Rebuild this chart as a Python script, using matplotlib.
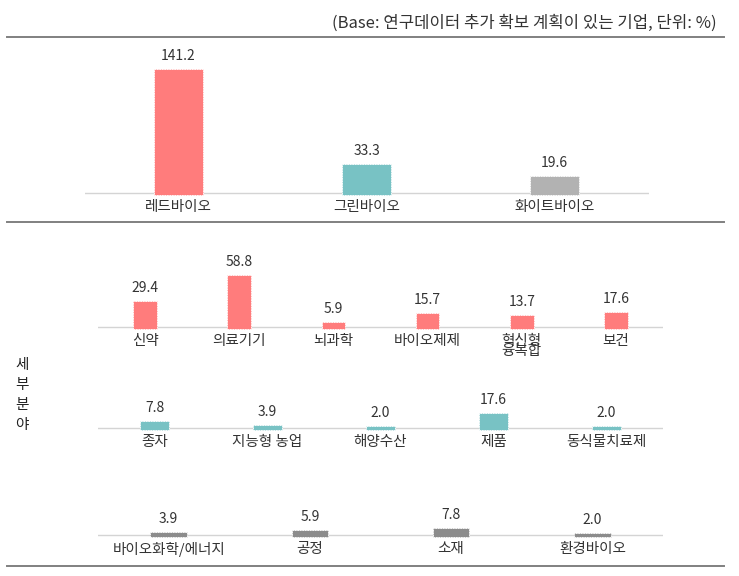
import matplotlib
matplotlib.use("Agg")
import matplotlib.pyplot as plt
from matplotlib.lines import Line2D

plt.rcParams['font.family'] = ['Noto Sans CJK KR', 'DejaVu Sans']

# data
main_labels = ["레드바이오", "그린바이오", "화이트바이오"]
main_values = [141.2, 33.3, 19.6]

red_labels = ["신약", "의료기기", "뇌과학", "바이오제제", "혁신형\n융복합", "보건"]
red_values = [29.4, 58.8, 5.9, 15.7, 13.7, 17.6]

green_labels = ["종자", "지능형 농업", "해양수산", "제품", "동식물치료제"]
green_values = [7.8, 3.9, 2.0, 17.6, 2.0]

white_labels = ["바이오화학/에너지", "공정", "소재", "환경바이오"]
white_values = [3.9, 5.9, 7.8, 2.0]

RED = "#FF7C7C"
TEAL = "#78C2C4"
GRAY_LIGHT = "#B2B2B2"
GRAY_DARK = "#8C8C8C"

W, H = 739, 576
fig = plt.figure(figsize=(W / 100, H / 100), dpi=100)

SCALE = 0.88  # pixels per percent
LO = -6


def px2pt(p):
    return p * 0.72


def section(base_px, x0, x1, labels, values, color, width, ymax):
    bottom_px = base_px - LO * SCALE
    top_px = base_px - ymax * SCALE
    ax = fig.add_axes([x0 / W, 1 - bottom_px / H, (x1 - x0) / W, (bottom_px - top_px) / H])
    n = len(values)
    ax.set_xlim(-0.5, n - 0.5)
    ax.set_ylim(LO, ymax)
    ax.axis('off')
    ax.axhline(0, color="#D4D4D4", lw=1.0, zorder=1)
    sink = 2 / SCALE
    xs = list(range(n))
    ax.bar(xs, [v + sink for v in values], bottom=-sink, width=width, color=color,
           edgecolor="white", linewidth=0.6, linestyle=(0, (2, 1)), zorder=2)
    for x, v, lab in zip(xs, values, labels):
        ax.annotate(f"{v:.1f}", xy=(x, v), xytext=(0, px2pt(13)), textcoords="offset points",
                    ha="center", va="center", fontsize=10, color="#333333")
        ax.annotate(lab, xy=(x, 0), xytext=(0, -px2pt(7)), textcoords="offset points",
                    ha="center", va="top", fontsize=10.5, color="#333333",
                    linespacing=0.65)
    return ax


section(193, 84.5, 648.5, main_labels, main_values, [RED, TEAL, GRAY_LIGHT], 0.26, 150)
section(327, 98, 663, red_labels, red_values, RED, 0.25, 66)
section(428, 98, 663, green_labels, green_values, TEAL, 0.26, 20)
section(535, 98, 663, white_labels, white_values, GRAY_DARK, 0.26, 10)

# separator lines
for y in (37, 222, 566):
    fig.add_artist(Line2D([7 / W, 724 / W], [1 - y / H, 1 - y / H],
                          color="#808080", lw=1.4))

fig.text(717 / W, 1 - 23 / H, "(Base: 연구데이터 추가 확보 계획이 있는 기업, 단위: %)",
         ha="right", va="center", fontsize=12, color="#333333")

for i, ch in enumerate("세부분야"):
    fig.text(22 / W, 1 - (365 + 20 * i) / H, ch, ha="center", va="center",
             fontsize=10.5, color="#222222")

fig.savefig("out.png", dpi=100)
